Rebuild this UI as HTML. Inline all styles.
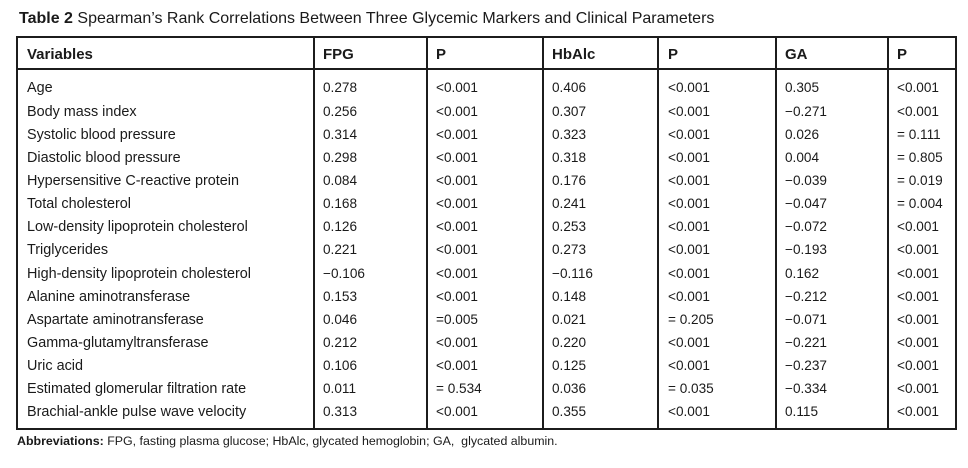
<!DOCTYPE html>
<html>
<head>
<meta charset="utf-8">
<style>
  html, body { margin:0; padding:0; background:#fff; }
  body { width:968px; height:468px; position:relative; overflow:hidden;
         font-family:"Liberation Sans", Arial, sans-serif; color:#1a1a1a; }
  .abs { position:absolute; white-space:nowrap; }
  .title { left:19px; top:8.5px; font-size:16px; line-height:20px; }
  .title b { font-weight:bold; }
  .line { position:absolute; background:#1c1c1c; }
  .hdr { position:absolute; top:45px; font-size:15px; line-height:20px; font-weight:bold; }
  .row { position:absolute; left:0; width:968px; height:20px; }
  .row span { position:absolute; top:0; font-size:13.6px; line-height:20px; white-space:nowrap; }
  .row span.c0 { font-size:14.4px; }
  .c0 { left:27px; }
  .c1 { left:323px; }
  .c2 { left:436px; }
  .c3 { left:552px; }
  .c4 { left:668px; }
  .c5 { left:785px; }
  .c6 { left:897px; }
  .foot { left:17px; top:433px; font-size:12.4px; line-height:16px; }
</style>
</head>
<body>
<div class="abs title"><b>Table 2</b> Spearman’s Rank Correlations Between Three Glycemic Markers and Clinical Parameters</div>

<!-- outer border -->
<div class="line" style="left:16px; top:36px; width:941px; height:2px;"></div>
<div class="line" style="left:16px; top:428px; width:941px; height:2px;"></div>
<div class="line" style="left:16px; top:36px; width:2px; height:394px;"></div>
<div class="line" style="left:955px; top:36px; width:2px; height:394px;"></div>
<!-- header bottom -->
<div class="line" style="left:16px; top:68px; width:941px; height:2px;"></div>
<!-- column lines -->
<div class="line" style="left:313px; top:36px; width:2px; height:394px;"></div>
<div class="line" style="left:426px; top:36px; width:2px; height:394px;"></div>
<div class="line" style="left:542px; top:36px; width:2px; height:394px;"></div>
<div class="line" style="left:657px; top:36px; width:2px; height:394px;"></div>
<div class="line" style="left:775px; top:36px; width:2px; height:394px;"></div>
<div class="line" style="left:887px; top:36px; width:2px; height:394px;"></div>

<!-- header -->
<div class="hdr c0">Variables</div>
<div class="hdr c1">FPG</div>
<div class="hdr c2">P</div>
<div class="hdr c3">HbAlc</div>
<div class="hdr c4">P</div>
<div class="hdr c5">GA</div>
<div class="hdr c6">P</div>

<!-- rows -->
<div class="row" style="top:78.4px"><span class="c0">Age</span><span class="c1">0.278</span><span class="c2">&lt;0.001</span><span class="c3">0.406</span><span class="c4">&lt;0.001</span><span class="c5">0.305</span><span class="c6">&lt;0.001</span></div>
<div class="row" style="top:101.5px"><span class="c0">Body mass index</span><span class="c1">0.256</span><span class="c2">&lt;0.001</span><span class="c3">0.307</span><span class="c4">&lt;0.001</span><span class="c5">−0.271</span><span class="c6">&lt;0.001</span></div>
<div class="row" style="top:124.7px"><span class="c0">Systolic blood pressure</span><span class="c1">0.314</span><span class="c2">&lt;0.001</span><span class="c3">0.323</span><span class="c4">&lt;0.001</span><span class="c5">0.026</span><span class="c6">= 0.111</span></div>
<div class="row" style="top:147.8px"><span class="c0">Diastolic blood pressure</span><span class="c1">0.298</span><span class="c2">&lt;0.001</span><span class="c3">0.318</span><span class="c4">&lt;0.001</span><span class="c5">0.004</span><span class="c6">= 0.805</span></div>
<div class="row" style="top:171.0px"><span class="c0">Hypersensitive C-reactive protein</span><span class="c1">0.084</span><span class="c2">&lt;0.001</span><span class="c3">0.176</span><span class="c4">&lt;0.001</span><span class="c5">−0.039</span><span class="c6">= 0.019</span></div>
<div class="row" style="top:194.1px"><span class="c0">Total cholesterol</span><span class="c1">0.168</span><span class="c2">&lt;0.001</span><span class="c3">0.241</span><span class="c4">&lt;0.001</span><span class="c5">−0.047</span><span class="c6">= 0.004</span></div>
<div class="row" style="top:217.2px"><span class="c0">Low-density lipoprotein cholesterol</span><span class="c1">0.126</span><span class="c2">&lt;0.001</span><span class="c3">0.253</span><span class="c4">&lt;0.001</span><span class="c5">−0.072</span><span class="c6">&lt;0.001</span></div>
<div class="row" style="top:240.4px"><span class="c0">Triglycerides</span><span class="c1">0.221</span><span class="c2">&lt;0.001</span><span class="c3">0.273</span><span class="c4">&lt;0.001</span><span class="c5">−0.193</span><span class="c6">&lt;0.001</span></div>
<div class="row" style="top:263.5px"><span class="c0">High-density lipoprotein cholesterol</span><span class="c1">−0.106</span><span class="c2">&lt;0.001</span><span class="c3">−0.116</span><span class="c4">&lt;0.001</span><span class="c5">0.162</span><span class="c6">&lt;0.001</span></div>
<div class="row" style="top:286.7px"><span class="c0">Alanine aminotransferase</span><span class="c1">0.153</span><span class="c2">&lt;0.001</span><span class="c3">0.148</span><span class="c4">&lt;0.001</span><span class="c5">−0.212</span><span class="c6">&lt;0.001</span></div>
<div class="row" style="top:309.8px"><span class="c0">Aspartate aminotransferase</span><span class="c1">0.046</span><span class="c2">=0.005</span><span class="c3">0.021</span><span class="c4">= 0.205</span><span class="c5">−0.071</span><span class="c6">&lt;0.001</span></div>
<div class="row" style="top:332.9px"><span class="c0">Gamma-glutamyltransferase</span><span class="c1">0.212</span><span class="c2">&lt;0.001</span><span class="c3">0.220</span><span class="c4">&lt;0.001</span><span class="c5">−0.221</span><span class="c6">&lt;0.001</span></div>
<div class="row" style="top:356.1px"><span class="c0">Uric acid</span><span class="c1">0.106</span><span class="c2">&lt;0.001</span><span class="c3">0.125</span><span class="c4">&lt;0.001</span><span class="c5">−0.237</span><span class="c6">&lt;0.001</span></div>
<div class="row" style="top:379.2px"><span class="c0">Estimated glomerular filtration rate</span><span class="c1">0.011</span><span class="c2">= 0.534</span><span class="c3">0.036</span><span class="c4">= 0.035</span><span class="c5">−0.334</span><span class="c6">&lt;0.001</span></div>
<div class="row" style="top:402.4px"><span class="c0">Brachial-ankle pulse wave velocity</span><span class="c1">0.313</span><span class="c2">&lt;0.001</span><span class="c3">0.355</span><span class="c4">&lt;0.001</span><span class="c5">0.115</span><span class="c6">&lt;0.001</span></div>

<div class="abs foot"><b>Abbreviations:</b> FPG, fasting plasma glucose; HbAlc, glycated hemoglobin; GA,&nbsp; glycated albumin.</div>
</body>
</html>
